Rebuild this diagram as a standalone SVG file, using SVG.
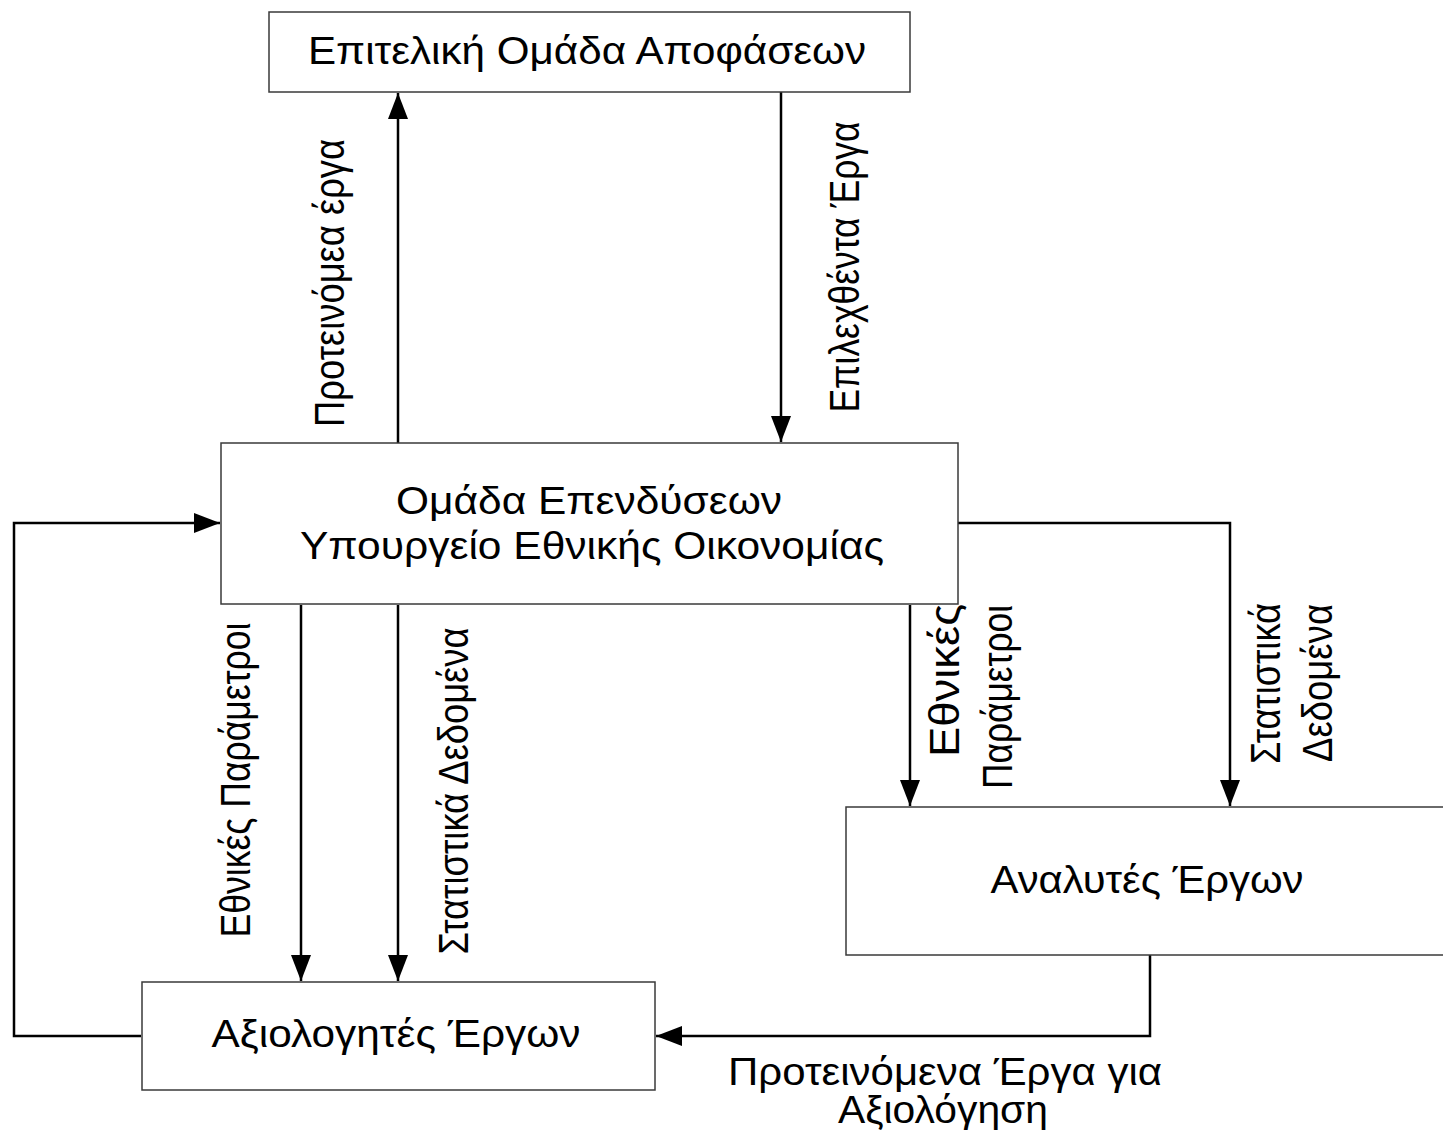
<svg xmlns="http://www.w3.org/2000/svg" width="1443" height="1130" viewBox="0 0 1443 1130">
<style>
  .box { fill: #ffffff; stroke: #3a3a3a; stroke-width: 1.5; }
  .lbl { font-family: "Liberation Sans", Arial, sans-serif; font-size: 38px; fill: #000; text-anchor: middle; }
  .vl { font-family: "Liberation Sans", Arial, sans-serif; font-size: 42px; fill: #000; text-anchor: middle; }
  .vle { font-family: "Liberation Sans", Arial, sans-serif; font-size: 42px; fill: #000; text-anchor: end; }
  .conn { fill: none; stroke: #000; stroke-width: 2.5; }
</style>
<defs>
  <marker id="arr" markerUnits="userSpaceOnUse" markerWidth="26" markerHeight="20" refX="26" refY="10" orient="auto">
    <path d="M0,0 L26,10 L0,20 Z" fill="#000"/>
  </marker>
</defs>
<rect width="1443" height="1130" fill="#ffffff"/>

<g id="connectors">
  <path class="conn" d="M398,443 L398,93" marker-end="url(#arr)"/>
  <path class="conn" d="M781,92 L781,442" marker-end="url(#arr)"/>
  <path class="conn" d="M141,1036 L14,1036 L14,523 L220,523" marker-end="url(#arr)"/>
  <path class="conn" d="M301,605 L301,981" marker-end="url(#arr)"/>
  <path class="conn" d="M398,605 L398,981" marker-end="url(#arr)"/>
  <path class="conn" d="M910,605 L910,806" marker-end="url(#arr)"/>
  <path class="conn" d="M958,523 L1230,523 L1230,806" marker-end="url(#arr)"/>
  <path class="conn" d="M1150,955 L1150,1036 L656,1036" marker-end="url(#arr)"/>

  <text class="vl" transform="rotate(-90 344 283)" x="344" y="283" textLength="288" lengthAdjust="spacingAndGlyphs">Προτεινόμεα έργα</text>
  <text class="vl" transform="rotate(-90 859 267)" x="859" y="267" textLength="291" lengthAdjust="spacingAndGlyphs">Επιλεχθέντα Έργα</text>
  <text class="vl" transform="rotate(-90 250 780)" x="250" y="780" textLength="315" lengthAdjust="spacingAndGlyphs">Εθνικές Παράμετροι</text>
  <text class="vl" transform="rotate(-90 468 791)" x="468" y="791" textLength="327" lengthAdjust="spacingAndGlyphs">Στατιστικά Δεδομένα</text>
  <text class="vle" transform="rotate(-90 959 604)" x="959" y="604" textLength="153" lengthAdjust="spacingAndGlyphs">Εθνικές</text>
  <text class="vle" transform="rotate(-90 1012 605)" x="1012" y="605" textLength="184" lengthAdjust="spacingAndGlyphs">Παράμετροι</text>
  <text class="vle" transform="rotate(-90 1280 603)" x="1280" y="603" textLength="161" lengthAdjust="spacingAndGlyphs">Στατιστικά</text>
  <text class="vle" transform="rotate(-90 1332 604)" x="1332" y="604" textLength="158" lengthAdjust="spacingAndGlyphs">Δεδομένα</text>
  <text class="lbl" x="945" y="1085" textLength="434" lengthAdjust="spacingAndGlyphs">Προτεινόμενα Έργα για</text>
  <text class="lbl" x="943" y="1123" textLength="210" lengthAdjust="spacingAndGlyphs">Αξιολόγηση</text>
</g>

<g id="node-executive">
  <rect class="box" x="269" y="12" width="641" height="80"/>
  <text class="lbl" x="587" y="64" textLength="558" lengthAdjust="spacingAndGlyphs">Επιτελική Ομάδα Αποφάσεων</text>
</g>

<g id="node-investment">
  <rect class="box" x="221" y="443" width="737" height="161"/>
  <text class="lbl" x="589" y="514" textLength="386" lengthAdjust="spacingAndGlyphs">Ομάδα Επενδύσεων</text>
  <text class="lbl" x="592" y="559" textLength="584" lengthAdjust="spacingAndGlyphs">Υπουργείο Εθνικής Οικονομίας</text>
</g>

<g id="node-analysts">
  <rect class="box" x="846" y="807" width="620" height="148"/>
  <text class="lbl" x="1147" y="893" textLength="313" lengthAdjust="spacingAndGlyphs">Αναλυτές Έργων</text>
</g>

<g id="node-evaluators">
  <rect class="box" x="142" y="982" width="513" height="108"/>
  <text class="lbl" x="396" y="1047" textLength="369" lengthAdjust="spacingAndGlyphs">Αξιολογητές Έργων</text>
</g>
</svg>
